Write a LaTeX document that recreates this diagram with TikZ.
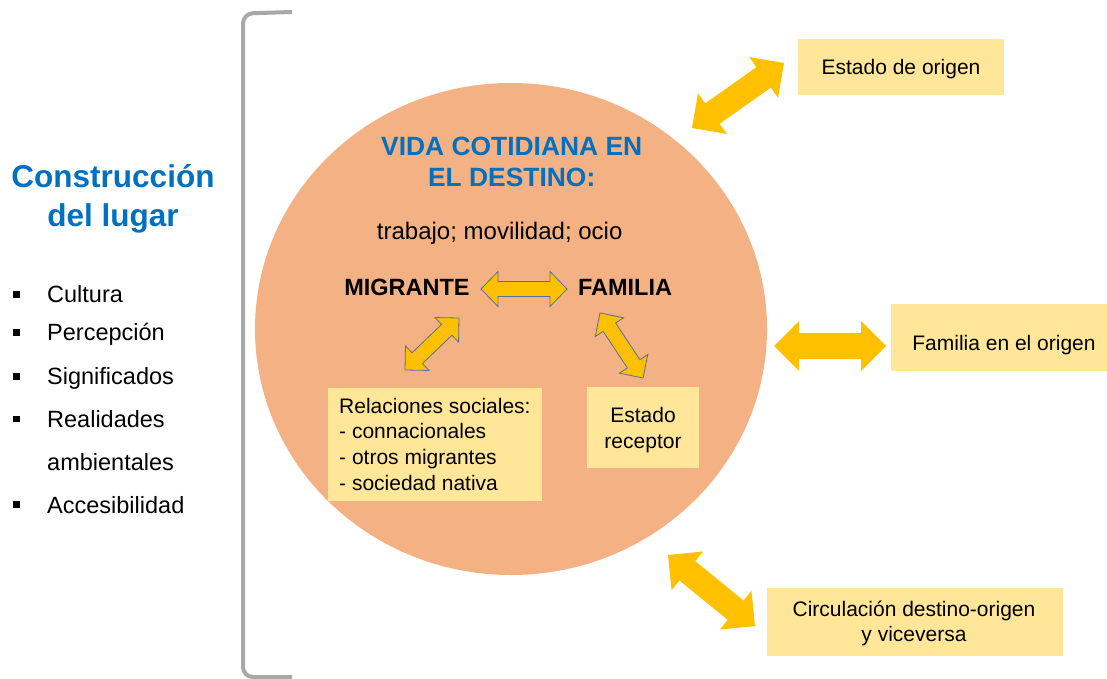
\documentclass[tikz,border=0pt]{standalone}
\usepackage{fontspec}
\setmainfont{Liberation Sans}
\usetikzlibrary{calc,shapes.geometric}
\definecolor{peach}{HTML}{F4B183}
\definecolor{boxy}{HTML}{FFE699}
\definecolor{gold}{HTML}{FFC000}
\definecolor{blueT}{HTML}{0070C0}
\definecolor{brk}{HTML}{A8A8A8}
\definecolor{arrline}{HTML}{5A6F96}
% #1 style, #2 A, #3 B, #4 head length, #5 head half width, #6 shaft half width
\newcommand{\dblblockarrow}[6]{%
\path[#1] (#2) -- ($(#2)!#4!(#3)!#5!90:(#3)$) -- ($(#2)!#4!(#3)!#6!90:(#3)$)
 -- ($(#3)!#4!(#2)!#6!-90:(#2)$) -- ($(#3)!#4!(#2)!#5!-90:(#2)$) -- (#3)
 -- ($(#3)!#4!(#2)!#5!90:(#2)$) -- ($(#3)!#4!(#2)!#6!90:(#2)$)
 -- ($(#2)!#4!(#3)!#6!-90:(#3)$) -- ($(#2)!#4!(#3)!#5!-90:(#3)$) -- cycle;}
\begin{document}
\begin{tikzpicture}[x=1pt,y=-1pt,
  box/.style={fill=boxy, inner sep=0pt},
  txt/.style={font=\fontsize{21}{25.6}\selectfont, inner sep=0pt, anchor=base, align=center},
  item/.style={font=\fontsize{23.5}{43}\selectfont, inner sep=0pt, anchor=base west, align=left},
  bul/.style={fill=black, minimum size=6.5pt, inner sep=0pt},
  inarrow/.style={fill=gold, draw=arrline, line width=0.8pt, line join=miter},
  outarrow/.style={fill=gold}]
\useasboundingbox (0,0) rectangle (1107,679);

% bracket
\draw[brk, line width=4pt, rounded corners=10pt] (292,12) -- (243,13.5) -- (243,677) -- (292,677);

% left title and list (multi-line nodes: base = last line)
\node[font=\bfseries\fontsize{31.5}{39}\selectfont, text=blueT, align=center, anchor=base, inner sep=0pt] (title) at (113,226) {Construcción\\del lugar};
\node[bul] (b1) at (16.5,294.3) {};
\node[bul] (b2) at (16.5,332.7) {};
\node[bul] (b3) at (16.5,376.5) {};
\node[bul] (b4) at (16.5,419) {};
\node[bul] (b5) at (16.5,504.5) {};
\node[item] (i1) at (47,302.5) {Cultura};
\node[item] (i2) at (47,340) {Percepción};
\node[item] (i3) at (47,384) {Significados};
\node[item] (i4) at (47,470) {Realidades\\ambientales};
\node[item] (i5) at (47,513) {Accesibilidad};

% main circle
\node[ellipse, fill=peach, minimum width=512pt, minimum height=492pt, inner sep=0pt] (circ) at (511,329) {};

\node[font=\bfseries\fontsize{26.4}{31}\selectfont, text=blueT, align=center, anchor=base, inner sep=0pt] (vida) at (511.7,186) {VIDA COTIDIANA EN\\EL DESTINO:};
\node[font=\fontsize{24}{28}\selectfont, anchor=base, inner sep=0pt] (trab) at (499.7,239.3) {trabajo; movilidad; ocio};
\node[font=\bfseries\fontsize{23.5}{28}\selectfont, anchor=base, inner sep=0pt] (mig) at (407,295) {MIGRANTE};
\node[font=\bfseries\fontsize{23.5}{28}\selectfont, anchor=base, inner sep=0pt] (fam) at (625,295) {FAMILIA};

% inner boxes
\node[box, minimum width=214pt, minimum height=113pt] (br) at (435,444.5) {};
\node[txt, align=left, anchor=base west] (tr) at (339,490) {Relaciones sociales:\\- connacionales\\- otros migrantes\\- sociedad nativa};
\node[box, minimum width=112pt, minimum height=81pt] (be) at (643,427.5) {};
\node[txt] (te) at (643,448.3) {Estado\\receptor};

% inner arrows
\coordinate (h1) at (481,289); \coordinate (h2) at (567,289);
\coordinate (l1) at (405,370); \coordinate (l2) at (459,318);
\coordinate (r1) at (600,313); \coordinate (r2) at (643,378);
\dblblockarrow{inarrow}{h1}{h2}{17pt}{17.5pt}{7.5pt}
\dblblockarrow{inarrow}{l1}{l2}{17pt}{17pt}{7.5pt}
\dblblockarrow{inarrow}{r1}{r2}{17pt}{17pt}{7.5pt}

% outer boxes
\node[box, minimum width=206pt, minimum height=56pt] (bo) at (901,67) {};
\node[txt] (to) at (901,75) {Estado de origen};
\node[box, minimum width=216pt, minimum height=67pt] (bf) at (999,337.5) {};
\node[txt] (tf) at (1004,350) {Familia en el origen};
\node[box, minimum width=296pt, minimum height=68pt] (bc) at (915,622) {};
\node[txt] (tc) at (914,641.7) {Circulación destino-origen\\y viceversa};

% outer arrows
\coordinate (o1a) at (692,128); \coordinate (o1b) at (784,63);
\coordinate (o2a) at (774,346); \coordinate (o2b) at (886,346);
\coordinate (o3a) at (668,555); \coordinate (o3b) at (755,626);
\dblblockarrow{outarrow}{o1a}{o1b}{25pt}{25pt}{12.5pt}
\dblblockarrow{outarrow}{o2a}{o2b}{25pt}{25pt}{13pt}
\dblblockarrow{outarrow}{o3a}{o3b}{25pt}{25pt}{12.5pt}
\end{tikzpicture}
\end{document}
